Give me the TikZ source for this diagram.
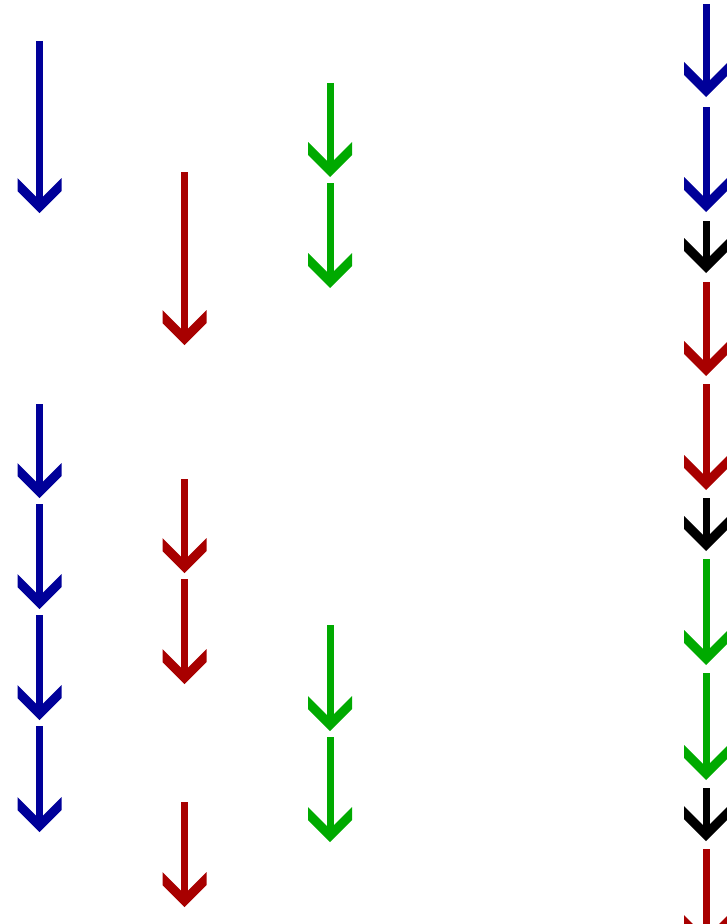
\documentclass[tikz,border=0pt]{standalone}
\usepackage{xcolor}
\usepackage{tikz}
\usetikzlibrary{arrows.meta}

\definecolor{darkblue}{RGB}{0,0,153}
\definecolor{darkred}{RGB}{168,0,0}
\definecolor{midgreen}{RGB}{0,170,0}

% open chevron head with flat wing ends
\pgfdeclarearrow{
  name = Chevron,
  setup code = {
    \pgfarrowssettipend{0pt}
    \pgfarrowssetlineend{-7.5pt}
    \pgfarrowssetbackend{-26.25pt}
    \pgfarrowshullpoint{0pt}{0pt}
    \pgfarrowsupperhullpoint{-26.25pt}{16.5pt}
  },
  drawing code = {
    \pgfpathmoveto{\pgfqpoint{0pt}{0pt}}
    \pgfpathlineto{\pgfqpoint{-16.5pt}{16.5pt}}
    \pgfpathlineto{\pgfqpoint{-26.25pt}{16.5pt}}
    \pgfpathlineto{\pgfqpoint{-9.75pt}{0pt}}
    \pgfpathlineto{\pgfqpoint{-26.25pt}{-16.5pt}}
    \pgfpathlineto{\pgfqpoint{-16.5pt}{-16.5pt}}
    \pgfpathclose
    \pgfusepathqfill
  }
}

\begin{document}
\begin{tikzpicture}[x=0.75pt, y=-0.75pt, line width=5.25pt]
\useasboundingbox (0,0) rectangle (727,924);
% first column
\draw[darkblue, -{Chevron}] (39.5,41) -- (39.5,213);
\draw[darkblue, -{Chevron}] (39.5,404) -- (39.5,498);
\draw[darkblue, -{Chevron}] (39.5,504) -- (39.5,609);
\draw[darkblue, -{Chevron}] (39.5,615) -- (39.5,720);
\draw[darkblue, -{Chevron}] (39.5,726) -- (39.5,832);
% second column
\draw[darkred, -{Chevron}] (184.5,172) -- (184.5,345);
\draw[darkred, -{Chevron}] (184.5,479) -- (184.5,573);
\draw[darkred, -{Chevron}] (184.5,579) -- (184.5,684);
\draw[darkred, -{Chevron}] (184.5,802) -- (184.5,907);
% third column
\draw[midgreen, -{Chevron}] (330,83) -- (330,177);
\draw[midgreen, -{Chevron}] (330,183) -- (330,288);
\draw[midgreen, -{Chevron}] (330,625) -- (330,731);
\draw[midgreen, -{Chevron}] (330,737) -- (330,842);
% merged column
\draw[darkblue, -{Chevron}] (706,4) -- (706,97);
\draw[darkblue, -{Chevron}] (706,107) -- (706,212);
\draw[black, -{Chevron}] (706,221) -- (706,273);
\draw[darkred, -{Chevron}] (706,282) -- (706,376);
\draw[darkred, -{Chevron}] (706,384) -- (706,490);
\draw[black, -{Chevron}] (706,498) -- (706,551);
\draw[midgreen, -{Chevron}] (706,559) -- (706,665);
\draw[midgreen, -{Chevron}] (706,673) -- (706,780);
\draw[black, -{Chevron}] (706,788) -- (706,841);
\draw[darkred, -{Chevron}] (706,849) -- (706,950);
\end{tikzpicture}
\end{document}
